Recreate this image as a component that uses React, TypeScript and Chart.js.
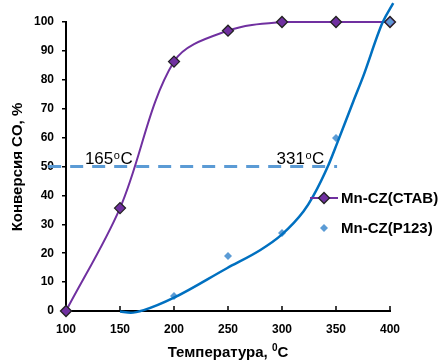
import React, { useEffect, useRef } from 'react';
import { Chart, registerables } from 'chart.js';

Chart.register(...registerables);

// ---- data ----
const ctabTemps = [100, 150, 200, 250, 300, 350, 400];
const ctabValues = [0, 35.6, 86.3, 97, 100, 100, 100];
const p123Temps = [200, 250, 300, 350, 400];
const p123Values = [5.2, 19, 27, 59.9, 100];
const trendTemps = [150, 160, 172, 200, 249, 280, 300, 320, 329, 343, 351, 366, 375, 393, 403];
const trendValues = [-0.2, -0.6, 0.3, 4.6, 14.8, 21.1, 26.5, 34.5, 39.8, 50.5, 58, 72.5, 81, 99.7, 106.5];
const seriesLabels = ['Mn-CZ(CTAB)', 'Mn-CZ(P123)'];
const t50Texts = ['165', '331'];
const halfConversion = 50;
const yTitle = 'Конверсия CO, %';
const xTitleMain = 'Температура, ';
const xTitleSup = '0';
const xTitleEnd = 'C';

// ---- style / layout constants ----
const FONT = '"Liberation Sans", Arial, sans-serif';
const PURPLE = '#7030A0';
const LIGHT_BLUE = '#5B9BD5';
const TREND_BLUE = '#0070C0';
const t50LabelX = [117.5, 295];
const dashFrom = 83.5;
const dashTo = 351;

function toPoints(xs: number[], ys: number[]) {
  return xs.map((x, i) => ({ x, y: ys[i] }));
}

function diamond(ctx: CanvasRenderingContext2D, x: number, y: number, r: number) {
  ctx.beginPath();
  ctx.moveTo(x - r, y);
  ctx.lineTo(x, y - r);
  ctx.lineTo(x + r, y);
  ctx.lineTo(x, y + r);
  ctx.closePath();
}

const overlay = {
  id: 'overlay',
  beforeDatasetsDraw(chart: any) {
    const { ctx, chartArea, scales } = chart;
    const x = scales.x;
    const y = scales.y;
    ctx.save();
    // inward x tick marks
    ctx.strokeStyle = '#000';
    ctx.lineWidth = 1.5;
    ctx.beginPath();
    for (let v = 150; v <= 400; v += 50) {
      const px = x.getPixelForValue(v);
      ctx.moveTo(px, chartArea.bottom + 1);
      ctx.lineTo(px, chartArea.bottom - 5);
    }
    ctx.stroke();
    // dashed 50% line
    ctx.setLineDash([13, 9]);
    ctx.strokeStyle = LIGHT_BLUE;
    ctx.lineWidth = 3;
    const yy = y.getPixelForValue(halfConversion);
    ctx.beginPath();
    ctx.moveTo(x.getPixelForValue(dashFrom), yy);
    ctx.lineTo(x.getPixelForValue(dashTo), yy);
    ctx.stroke();
    ctx.restore();
  },
  afterDraw(chart: any) {
    const { ctx, scales, chartArea } = chart;
    const x = scales.x;
    const y = scales.y;
    ctx.save();
    ctx.fillStyle = '#000';
    ctx.textBaseline = 'alphabetic';
    ctx.textAlign = 'left';

    // T50 annotations
    const base = y.getPixelForValue(halfConversion) - 3;
    t50Texts.forEach((t, i) => {
      let px = x.getPixelForValue(t50LabelX[i]);
      ctx.font = `17px ${FONT}`;
      ctx.fillText(t, px, base);
      px += ctx.measureText(t).width + 0.5;
      ctx.font = `11px ${FONT}`;
      ctx.fillText('o', px, base - 5);
      px += ctx.measureText('o').width + 0.5;
      ctx.font = `17px ${FONT}`;
      ctx.fillText('C', px, base);
    });

    // legend
    const legendX = 310;
    const rows = [198, 228];
    chart.data.datasets.forEach((ds: any) => {
      const idx = seriesLabels.indexOf(ds.label);
      if (idx < 0) return;
      const ry = rows[idx];
      if (ds.showLine !== false) {
        ctx.strokeStyle = ds.borderColor;
        ctx.lineWidth = 2;
        ctx.beginPath();
        ctx.moveTo(legendX, ry);
        ctx.lineTo(legendX + 28, ry);
        ctx.stroke();
      }
      diamond(ctx, legendX + 14, ry, ds.pointRadius);
      ctx.fillStyle = ds.pointBackgroundColor;
      ctx.fill();
      if (ds.pointBorderWidth > 0) {
        ctx.strokeStyle = ds.pointBorderColor;
        ctx.lineWidth = ds.pointBorderWidth;
        ctx.stroke();
      }
      ctx.fillStyle = '#000';
      ctx.font = `bold 15px ${FONT}`;
      ctx.textBaseline = 'middle';
      ctx.fillText(ds.label, legendX + 31, ry + 1);
    });

    // axis titles
    ctx.textBaseline = 'alphabetic';
    ctx.font = `bold 15px ${FONT}`;
    const wMain = ctx.measureText(xTitleMain).width;
    ctx.font = `bold 10px ${FONT}`;
    const wSup = ctx.measureText(xTitleSup).width;
    ctx.font = `bold 15px ${FONT}`;
    const wEnd = ctx.measureText(xTitleEnd).width;
    const total = wMain + wSup + wEnd;
    let tx = (chartArea.left + chartArea.right) / 2 - total / 2;
    const tb = 357;
    ctx.fillText(xTitleMain, tx, tb);
    tx += wMain;
    ctx.font = `bold 10px ${FONT}`;
    ctx.fillText(xTitleSup, tx, tb - 6);
    tx += wSup;
    ctx.font = `bold 15px ${FONT}`;
    ctx.fillText(xTitleEnd, tx, tb);

    ctx.translate(18, 167);
    ctx.rotate(-Math.PI / 2);
    ctx.textAlign = 'center';
    ctx.textBaseline = 'middle';
    ctx.fillText(yTitle, 0, 0);
    ctx.restore();
  },
};

export default function App() {
  const ref = useRef<HTMLCanvasElement | null>(null);
  useEffect(() => {
    document.body.style.margin = '0';
    const canvas = ref.current;
    if (!canvas) return;
    const chart = new Chart(canvas, {
      type: 'scatter',
      data: {
        datasets: [
          {
            label: 'trend',
            data: toPoints(trendTemps, trendValues),
            showLine: true,
            borderColor: TREND_BLUE,
            borderWidth: 2.5,
            pointRadius: 0,
            cubicInterpolationMode: 'monotone',
            clip: false,
            order: 0,
          } as any,
          {
            label: seriesLabels[1],
            data: toPoints(p123Temps, p123Values),
            showLine: false,
            pointStyle: 'rectRot',
            pointRadius: 4,
            pointBackgroundColor: LIGHT_BLUE,
            pointBorderColor: LIGHT_BLUE,
            pointBorderWidth: 0,
            backgroundColor: LIGHT_BLUE,
            borderColor: LIGHT_BLUE,
            clip: false,
            order: 1,
          } as any,
          {
            label: seriesLabels[0],
            data: toPoints(ctabTemps, ctabValues),
            showLine: true,
            borderColor: PURPLE,
            borderWidth: 2,
            tension: 0.34,
            pointStyle: 'rectRot',
            pointRadius: 5.5,
            pointBackgroundColor: PURPLE,
            pointBorderColor: '#222',
            pointBorderWidth: 1.3,
            clip: false,
            order: 2,
          } as any,
        ],
      },
      options: {
        animation: false,
        responsive: false,
        devicePixelRatio: 1,
        layout: { padding: { left: 0, top: 22, right: 51, bottom: 0 } },
        plugins: { legend: { display: false }, tooltip: { enabled: false } },
        scales: {
          x: {
            type: 'linear',
            min: 100,
            max: 400,
            ticks: { stepSize: 50, color: '#000', font: { family: FONT, size: 12, weight: 'bold' }, padding: 11 },
            grid: { display: false, drawTicks: false },
            border: { display: true, color: '#000', width: 2 },
            afterFit: (s: any) => { s.height = 50; },
          },
          y: {
            min: 0,
            max: 100,
            ticks: { stepSize: 10, color: '#000', font: { family: FONT, size: 12, weight: 'bold' }, padding: 8 },
            grid: { drawOnChartArea: false, drawTicks: true, tickLength: 4, color: '#000', lineWidth: 1.5 },
            border: { display: true, color: '#000', width: 2 },
            afterFit: (s: any) => { s.width = 66; },
          },
        },
      } as any,
      plugins: [overlay],
    });
    return () => chart.destroy();
  }, []);
  return <canvas ref={ref} width={441} height={361} style={{ display: 'block', width: 441, height: 361 }} />;
}
